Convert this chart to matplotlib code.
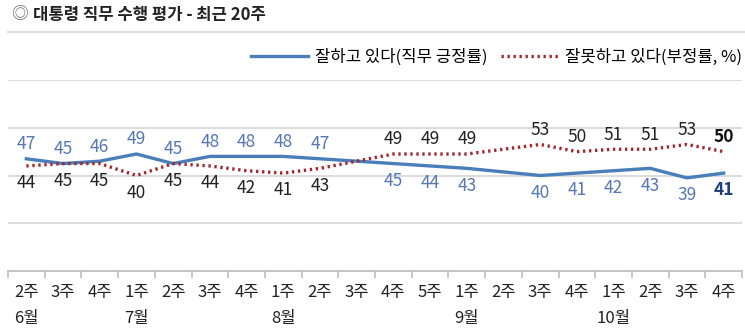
import numpy as np
import matplotlib.pyplot as plt
import matplotlib.transforms as mtrans
from matplotlib.lines import Line2D

plt.rcParams['font.family'] = ['Noto Sans CJK KR', 'DejaVu Sans']

weeks = ['2주', '3주', '4주', '1주', '2주', '3주', '4주', '1주', '2주', '3주',
         '4주', '5주', '1주', '2주', '3주', '4주', '1주', '2주', '3주', '4주']
months = {0: '6월', 3: '7월', 7: '8월', 12: '9월', 16: '10월'}
# None = no survey that week
approve = [47, 45, 46, 49, 45, 48, 48, 48, 47, None,
           45, 44, 43, None, 40, 41, 42, 43, 39, 41]
disapprove = [44, 45, 45, 40, 45, 44, 42, 41, 43, None,
              49, 49, 49, None, 53, 50, 51, 51, 53, 50]

blue = '#4a7ebb'
red = '#a0282c'
grid = '#d9d9d9'
dots = (0, (0.7, 1.1))
W, H = 745, 331

fig = plt.figure(figsize=(W / 100, H / 100), dpi=100)
ax = fig.add_axes([8 / W, 60 / H, 734 / W, 191 / H])

ia = [i for i, v in enumerate(approve) if v is not None]
idis = [i for i, v in enumerate(disapprove) if v is not None]
ax.plot(ia, [approve[i] for i in ia], color=blue, lw=2.4, zorder=3)
ax.plot(idis, [disapprove[i] for i in idis], color=red, lw=2.4,
        linestyle=dots, dash_capstyle='butt', zorder=3)

ax.set_xlim(-0.5, len(weeks) - 0.5)
ax.set_ylim(0, 80)
for y in (20, 40, 60, 80):
    ax.axhline(y, color=grid, lw=1.3, zorder=1)
for s in ('top', 'right', 'left'):
    ax.spines[s].set_visible(False)
ax.spines['bottom'].set_color('#bfbfbf')
ax.spines['bottom'].set_linewidth(1.3)
ax.set_yticks([])

ax.set_xticks(np.arange(len(weeks) + 1) - 0.5)
ax.set_xticklabels([])
ax.tick_params(axis='x', length=5, color='#bfbfbf', width=1.2)

# week / month labels: x in data units, y in figure units
tr = mtrans.blended_transform_factory(ax.transData, fig.transFigure)
for i, w in enumerate(weeks):
    ax.text(i, 1 - 293 / H, w, ha='center', va='center', fontsize=12,
            color='#222222', transform=tr, clip_on=False)
for i, m in months.items():
    ax.text(i, 1 - 318 / H, m, ha='center', va='center', fontsize=12,
            color='#222222', transform=tr, clip_on=False)

# value labels: the higher series above its point, the lower one below
n = len(weeks)
for i in range(n):
    a, d = approve[i], disapprove[i]
    if a is None:
        continue
    last = i == n - 1
    a_up = a >= d
    a_col = '#1f3f7a' if last else '#5577b3'
    d_col = '#111111' if last else '#222222'
    wt = 'bold' if last else 'normal'
    ax.annotate(str(a), (i, a), xytext=(0, 4 if a_up else -6), textcoords='offset points',
                ha='center', va='bottom' if a_up else 'top', fontsize=12.5,
                color=a_col, fontweight=wt)
    ax.annotate(str(d), (i, d), xytext=(0, -6 if a_up else 4), textcoords='offset points',
                ha='center', va='top' if a_up else 'bottom', fontsize=12.5,
                color=d_col, fontweight=wt)

# legend
handles = [Line2D([], [], color=blue, lw=2.4),
           Line2D([], [], color=red, lw=2.4, linestyle=dots)]
fig.legend(handles, ['잘하고 있다(직무 긍정률)', '잘못하고 있다(부정률, %)'],
           loc='center right', bbox_to_anchor=(742 / W, 1 - 57 / H), ncol=2,
           frameon=False, fontsize=12, handlelength=3.4, columnspacing=0.8,
           handletextpad=0.45, borderaxespad=0, borderpad=0)

# title and rule under it
fig.text(11 / W, 1 - 15 / H, '◎', fontsize=12, color='#666666', va='center')
fig.text(33 / W, 1 - 15 / H, '대통령 직무 수행 평가 - 최근 20주', fontsize=12,
         fontweight='bold', color='#222222', va='center')
fig.add_artist(Line2D([8 / W, 1], [1 - 32 / H] * 2, color='#d9d9d9', lw=1.3))

fig.savefig('out.png', dpi=100)
